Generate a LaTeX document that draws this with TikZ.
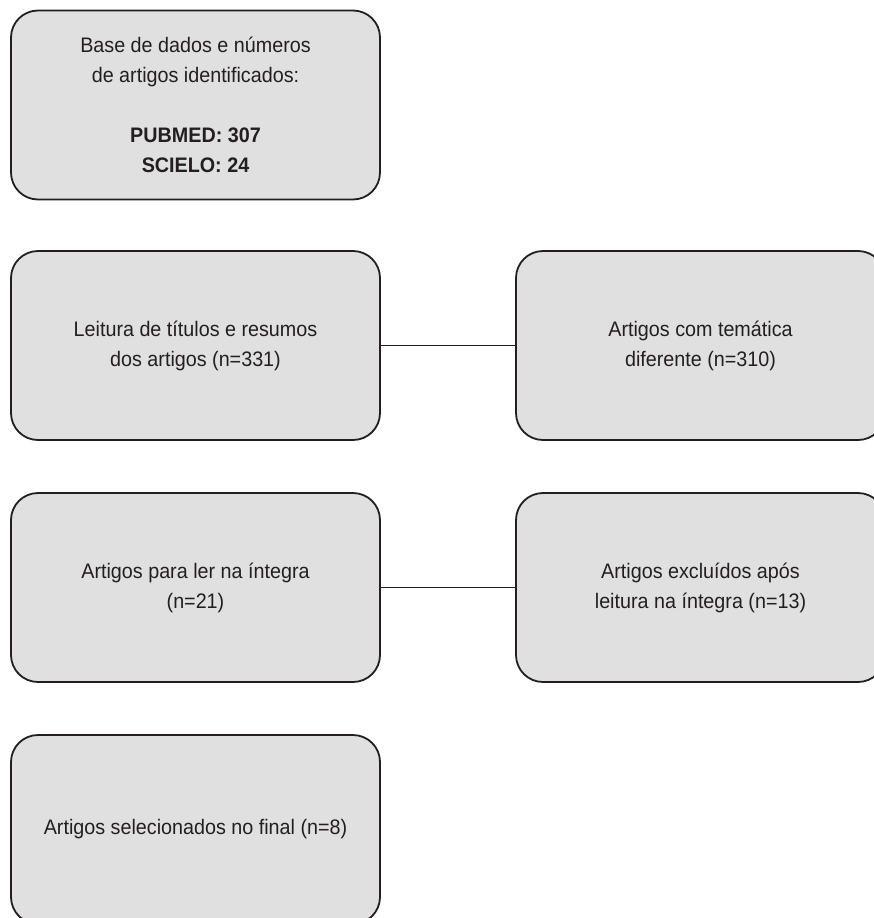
\documentclass[tikz,border=0pt]{standalone}
\usepackage{fontspec}
\setmainfont[FakeStretch=0.94]{Liberation Sans}
\definecolor{boxfill}{HTML}{E0E0E0}
\definecolor{ink}{HTML}{231F20}
\begin{document}
\begin{tikzpicture}[x=1pt,y=-1pt,
  flowbox/.style={draw=ink, line width=1.8pt, fill=boxfill, rounded corners=27pt,
    minimum width=369pt, minimum height=189pt, inner sep=0pt, align=center,
    text=ink, font=\fontsize{21}{30}\selectfont},
  link/.style={draw=ink, line width=1.8pt}]
\useasboundingbox (0,0) rectangle (874,918);
\node[flowbox] (b1) at (195.5,105) {Base de dados e números\\de artigos identificados:\\[30pt]\textbf{PUBMED: 307}\\\textbf{SCIELO: 24}};
\node[flowbox] (b2) at (195.5,345.5) {Leitura de títulos e resumos\\dos artigos (n=331)};
\node[flowbox] (b3) at (700.5,345.5) {Artigos com temática\\diferente (n=310)};
\node[flowbox] (b4) at (195.5,587.5) {Artigos para ler na íntegra\\(n=21)};
\node[flowbox] (b5) at (700.5,587.5) {Artigos excluídos após\\leitura na íntegra (n=13)};
\node[flowbox] (b6) at (195.5,829.5) {Artigos selecionados no final (n=8)};
\draw[link] (b2.east) -- (b3.west);
\draw[link] (b4.east) -- (b5.west);
\end{tikzpicture}
\end{document}
